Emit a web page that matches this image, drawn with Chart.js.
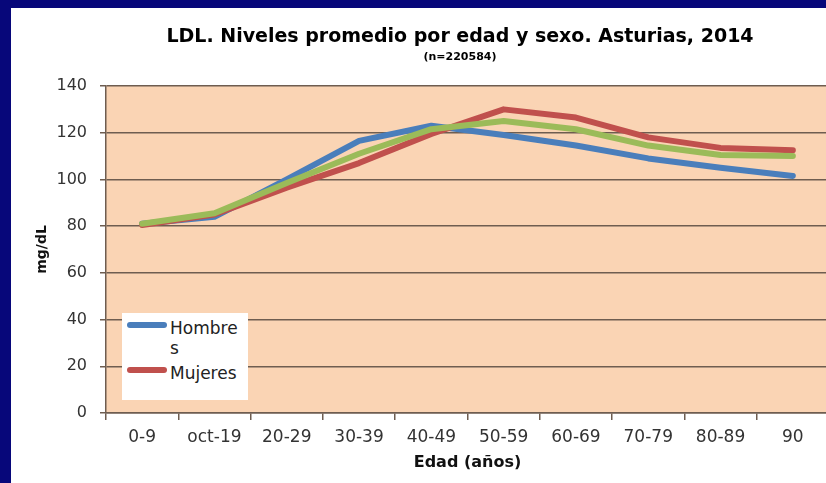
<!DOCTYPE html>
<html>
<head>
<meta charset="utf-8">
<script src="https://cdn.jsdelivr.net/npm/chart.js@4.4.0/dist/chart.umd.min.js"></script>
<style>
    body { margin: 0; width: 826px; height: 483px; background: #07077a; overflow: hidden; font-family: 'DejaVu Sans', sans-serif; }
    #panel { position: absolute; left: 11px; top: 8px; width: 815px; height: 475px; background: #fff; overflow: hidden; }
    #ldl-chart { position: absolute; left: 0; top: 0; }
    #legend { position: absolute; left: 111px; top: 305px; width: 126px; height: 87px; background: #fff; padding-top: 5px; box-sizing: border-box; }
    .legend-item { position: relative; padding-left: 48px; font-size: 17px; line-height: 20px; color: #222; margin-bottom: 5px; }
    .legend-item .swatch { position: absolute; left: 5px; top: 4px; width: 40px; height: 6px; border-radius: 3px; }
    .legend-item .txt { display: block; width: 72px; word-break: break-all; }
</style>
</head>
<body>
<div id="panel">
    <canvas id="ldl-chart" width="898" height="475"></canvas>
    <div id="legend"></div>
</div>
<script>
// 데이터
const edades = ['0-9', 'oct-19', '20-29', '30-39', '40-49', '50-59', '60-69', '70-79', '80-89', '90'];
const hombres = [81, 84, 100, 116.5, 123, 119, 114.5, 109, 105, 101.5];
const mujeres = [80.5, 85, 96.5, 107, 119.5, 130, 126.5, 118, 113.5, 112.5];
const total = [81, 85.5, 98.5, 111, 121.5, 125, 121.5, 114.5, 110.5, 110];

const serieNombres = ['Hombres', 'Mujeres', 'Total'];
const serieColores = ['#4a7ebb', '#c0504d', '#9bbb59'];
const serieEnLeyenda = [true, true, false];

const yMin = 0, yMax = 140, yPaso = 20;


window.addEventListener("load", function () {
    Chart.defaults.font.family = "'DejaVu Sans', sans-serif";

    const valores = [hombres, mujeres, total];
    let datasets = [];
    for (let i = 0; i < valores.length; i++) {
        datasets.push({
            label: serieNombres[i],
            data: valores[i],
            borderColor: serieColores[i],
            backgroundColor: serieColores[i],
            borderWidth: 6,
            pointRadius: 0,
            tension: 0,
            borderCapStyle: 'round',
            borderJoinStyle: 'round',
            order: valores.length - 1 - i   // la última serie queda encima
        });
    }

    // fondo color melocotón del área de trazado
    const fondoPlugin = {
        id: 'fondo',
        beforeDraw: function (chart) {
            const a = chart.chartArea;
            const ctx = chart.ctx;
            ctx.save();
            ctx.fillStyle = '#fad4b4';
            ctx.fillRect(a.left, a.top, a.right - a.left, a.bottom - a.top);
            ctx.restore();
        }
    };

    new Chart(document.getElementById("ldl-chart"), {
        type: 'line',
        data: { labels: edades, datasets: datasets },
        options: {
            responsive: false,
            animation: false,
            devicePixelRatio: 1,
            plugins: {
                legend: { display: false },
                tooltip: { enabled: false },
                title: {
                    display: true,
                    text: 'LDL. Niveles promedio por edad y sexo. Asturias, 2014',
                    color: '#000',
                    font: { size: 19, weight: 'bold' },
                    padding: { top: 18, bottom: 1.6 }
                },
                subtitle: {
                    display: true,
                    text: '(n=220584)',
                    color: '#000',
                    font: { size: 11, weight: 'bold' },
                    padding: { top: 0, bottom: 22.4 }
                }
            },
            scales: {
                x: {
                    offset: true,
                    grid: { offset: true, drawOnChartArea: false, tickLength: 7, color: '#6e5d50', lineWidth: 1.5 },
                    border: { color: '#6e5d50', width: 1.5 },
                    ticks: { color: '#333', font: { size: 17 }, padding: 7, maxRotation: 0, autoSkip: false },
                    title: {
                        display: true, text: 'Edad (años)', color: '#111',
                        font: { size: 16, weight: 'bold' }, padding: { top: 0, bottom: 10.4 }
                    },
                    afterFit: function (s) { s.height = 70; }
                },
                y: {
                    min: yMin, max: yMax,
                    ticks: { stepSize: yPaso, color: '#333', font: { size: 16 }, padding: 13 },
                    grid: { color: '#6e5d50', lineWidth: 1.5, tickLength: 6 },
                    border: { color: '#6e5d50', width: 1.5 },
                    title: {
                        display: true, text: 'mg/dL', color: '#111',
                        font: { size: 14, weight: 'bold' }, padding: { top: 23, bottom: 0 }
                    },
                    afterFit: function (s) { s.width = 95; }
                },
                // eje vacío a la derecha: el gráfico original sigue más allá del borde
                y2: {
                    position: 'right',
                    grid: { display: false },
                    border: { display: false },
                    ticks: { display: false },
                    afterFit: function (s) { s.width = 80; }
                }
            }
        },
        plugins: [fondoPlugin]
    });

    // leyenda (sólo Hombres y Mujeres, como en el original)
    let html = "";
    for (let i = 0; i < serieNombres.length; i++) {
        if (!serieEnLeyenda[i]) continue;
        html += '<div class="legend-item">';
        html += '<span class="swatch" style="background:' + serieColores[i] + '"></span>';
        html += '<span class="txt">' + serieNombres[i] + '</span>';
        html += '</div>';
    }
    document.querySelector("#legend").innerHTML = html;
});
</script>
</body>
</html>
